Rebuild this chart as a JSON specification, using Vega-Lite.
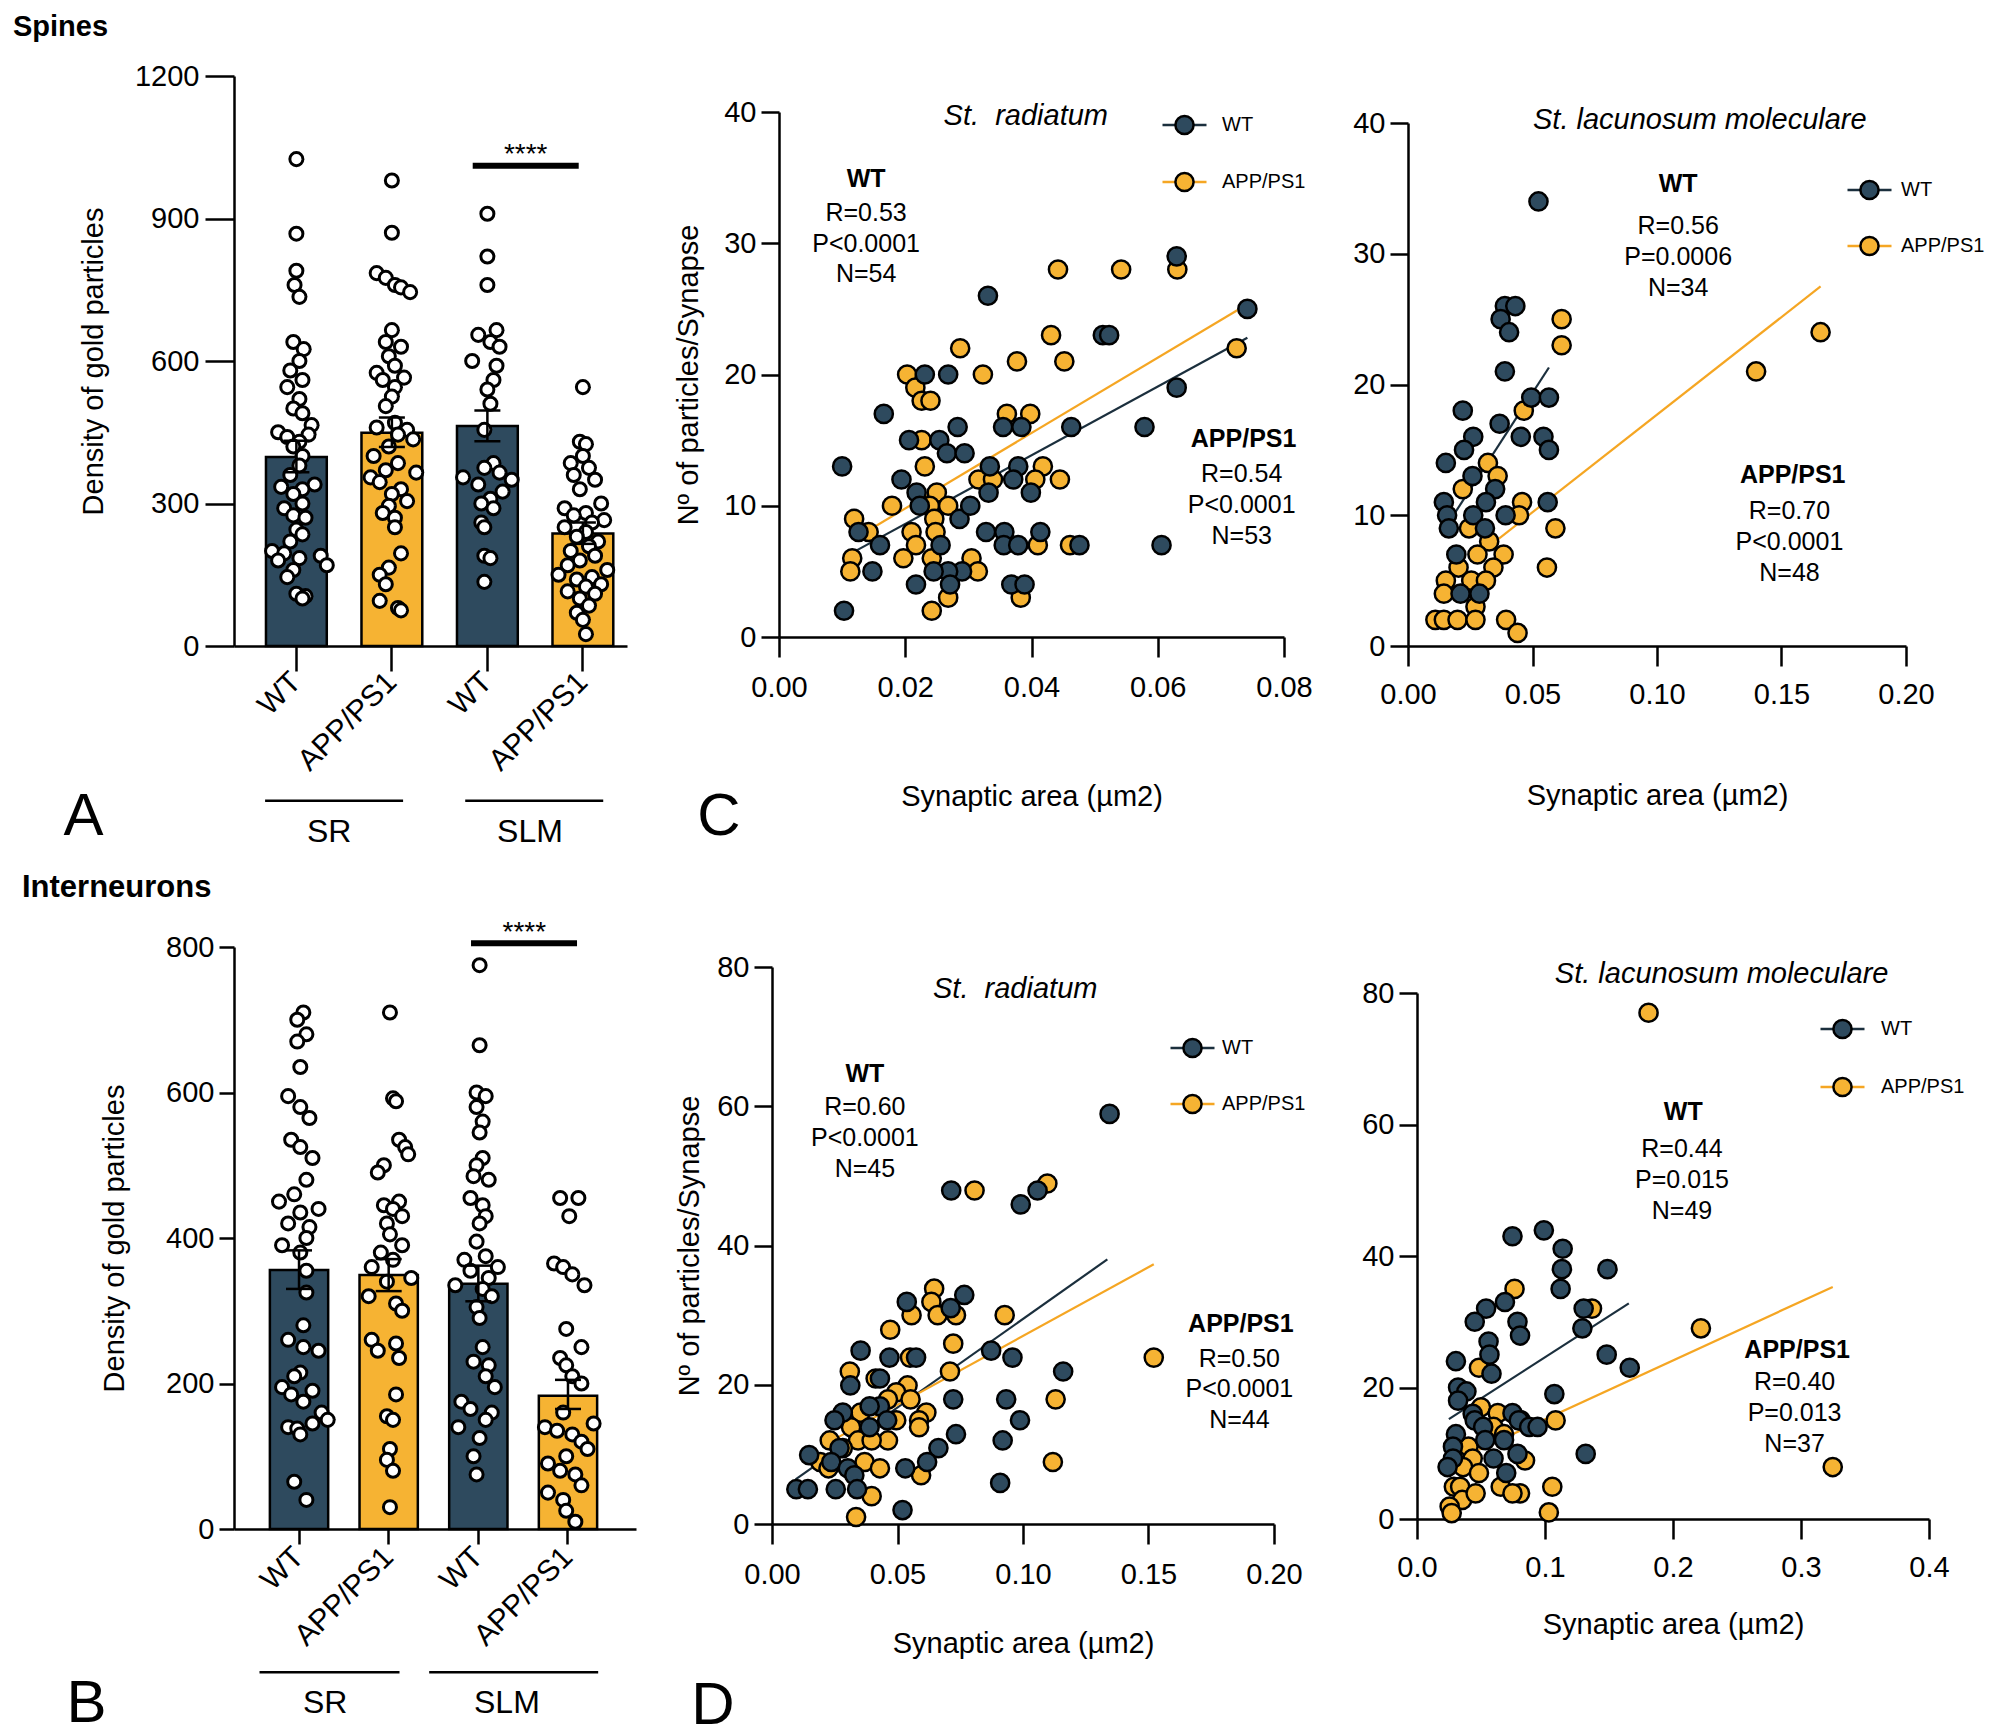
{
"$schema":"https://vega.github.io/schema/vega-lite/v6.json",
"background":"white",
"padding":{"left":13,"top":13,"right":0,"bottom":0},
"resolve":{"scale":{"fill":"independent","stroke":"independent"}},
"config":{
 "font":"Liberation Sans",
 "view":{"stroke":null},
 "axis":{"domainColor":"black","domainWidth":2.5,"tickColor":"black","tickWidth":2.5,"labelColor":"black","titleColor":"black","labelFontSize":29,"titleFontSize":29,"titleFontWeight":"normal","grid":false,"labelFont":"Liberation Sans","titleFont":"Liberation Sans","labelOverlap":false},
 "legend":{"labelFont":"Liberation Sans","labelColor":"black"},
 "title":{"color":"black","font":"Liberation Sans"},
 "text":{"color":"black","font":"Liberation Sans"}
},
"datasets":{
 "bA":[{"grp":"SR|WT","g":"WT","mean":398,"lo":366,"hi":432},{"grp":"SR|APP","g":"APP/PS1","mean":449,"lo":419,"hi":481},{"grp":"SLM|WT","g":"WT","mean":463,"lo":431,"hi":496},{"grp":"SLM|APP","g":"APP/PS1","mean":237,"lo":215,"hi":260}],
 "bB":[{"grp":"SR|WT","g":"WT","mean":356,"lo":330,"hi":383},{"grp":"SR|APP","g":"APP/PS1","mean":349,"lo":327,"hi":371},{"grp":"SLM|WT","g":"WT","mean":337,"lo":313,"hi":362},{"grp":"SLM|APP","g":"APP/PS1","mean":183,"lo":165,"hi":205}],
 "dA":[
  {"grp":"SR|WT","v":1025,"j":0},{"grp":"SR|WT","v":868,"j":0},{"grp":"SR|WT","v":790,"j":0},{"grp":"SR|WT","v":760,"j":-0.03},{"grp":"SR|WT","v":735,"j":0.05},{"grp":"SR|WT","v":640,"j":-0.05},{"grp":"SR|WT","v":625,"j":0.12},{"grp":"SR|WT","v":600,"j":0.05},{"grp":"SR|WT","v":580,"j":-0.1},{"grp":"SR|WT","v":560,"j":0.1},{"grp":"SR|WT","v":545,"j":-0.15},{"grp":"SR|WT","v":520,"j":0.05},{"grp":"SR|WT","v":500,"j":-0.05},{"grp":"SR|WT","v":490,"j":0.1},{"grp":"SR|WT","v":465,"j":0.25},{"grp":"SR|WT","v":450,"j":-0.3},{"grp":"SR|WT","v":445,"j":0.2},{"grp":"SR|WT","v":440,"j":-0.15},{"grp":"SR|WT","v":430,"j":0.05},{"grp":"SR|WT","v":420,"j":-0.05},{"grp":"SR|WT","v":400,"j":0.1},{"grp":"SR|WT","v":380,"j":0.05},{"grp":"SR|WT","v":360,"j":-0.1},{"grp":"SR|WT","v":340,"j":0.3},{"grp":"SR|WT","v":335,"j":-0.25},{"grp":"SR|WT","v":330,"j":0.1},{"grp":"SR|WT","v":320,"j":-0.05},{"grp":"SR|WT","v":300,"j":0.1},{"grp":"SR|WT","v":290,"j":-0.2},{"grp":"SR|WT","v":275,"j":-0.05},{"grp":"SR|WT","v":270,"j":0.15},{"grp":"SR|WT","v":245,"j":0},{"grp":"SR|WT","v":235,"j":0.1},{"grp":"SR|WT","v":220,"j":-0.1},{"grp":"SR|WT","v":200,"j":-0.4},{"grp":"SR|WT","v":195,"j":-0.2},{"grp":"SR|WT","v":190,"j":0.4},{"grp":"SR|WT","v":185,"j":0.05},{"grp":"SR|WT","v":180,"j":-0.3},{"grp":"SR|WT","v":170,"j":0.5},{"grp":"SR|WT","v":160,"j":-0.05},{"grp":"SR|WT","v":145,"j":-0.15},{"grp":"SR|WT","v":110,"j":0},{"grp":"SR|WT","v":105,"j":0.15},{"grp":"SR|WT","v":100,"j":0.1},
  {"grp":"SR|APP","v":980,"j":0},{"grp":"SR|APP","v":870,"j":0},{"grp":"SR|APP","v":785,"j":-0.25},{"grp":"SR|APP","v":775,"j":-0.1},{"grp":"SR|APP","v":760,"j":0.05},{"grp":"SR|APP","v":755,"j":0.15},{"grp":"SR|APP","v":745,"j":0.3},{"grp":"SR|APP","v":665,"j":0},{"grp":"SR|APP","v":640,"j":-0.1},{"grp":"SR|APP","v":630,"j":0.15},{"grp":"SR|APP","v":610,"j":-0.05},{"grp":"SR|APP","v":590,"j":0.05},{"grp":"SR|APP","v":575,"j":-0.25},{"grp":"SR|APP","v":565,"j":0.2},{"grp":"SR|APP","v":560,"j":-0.15},{"grp":"SR|APP","v":545,"j":0.05},{"grp":"SR|APP","v":525,"j":0},{"grp":"SR|APP","v":505,"j":-0.1},{"grp":"SR|APP","v":470,"j":0.05},{"grp":"SR|APP","v":460,"j":-0.25},{"grp":"SR|APP","v":455,"j":0.25},{"grp":"SR|APP","v":445,"j":0.1},{"grp":"SR|APP","v":435,"j":0.35},{"grp":"SR|APP","v":420,"j":-0.05},{"grp":"SR|APP","v":400,"j":-0.3},{"grp":"SR|APP","v":385,"j":0.1},{"grp":"SR|APP","v":370,"j":-0.1},{"grp":"SR|APP","v":365,"j":0.4},{"grp":"SR|APP","v":355,"j":-0.35},{"grp":"SR|APP","v":345,"j":-0.2},{"grp":"SR|APP","v":330,"j":0.15},{"grp":"SR|APP","v":320,"j":0},{"grp":"SR|APP","v":305,"j":0.25},{"grp":"SR|APP","v":295,"j":-0.05},{"grp":"SR|APP","v":280,"j":-0.15},{"grp":"SR|APP","v":270,"j":0.05},{"grp":"SR|APP","v":250,"j":0.05},{"grp":"SR|APP","v":195,"j":0.15},{"grp":"SR|APP","v":165,"j":-0.05},{"grp":"SR|APP","v":150,"j":-0.2},{"grp":"SR|APP","v":130,"j":-0.1},{"grp":"SR|APP","v":95,"j":-0.2},{"grp":"SR|APP","v":80,"j":0.1},{"grp":"SR|APP","v":75,"j":0.15},
  {"grp":"SLM|WT","v":910,"j":0},{"grp":"SLM|WT","v":820,"j":0},{"grp":"SLM|WT","v":760,"j":0},{"grp":"SLM|WT","v":665,"j":0.15},{"grp":"SLM|WT","v":655,"j":-0.15},{"grp":"SLM|WT","v":640,"j":0.05},{"grp":"SLM|WT","v":630,"j":0.2},{"grp":"SLM|WT","v":600,"j":-0.25},{"grp":"SLM|WT","v":590,"j":0.15},{"grp":"SLM|WT","v":560,"j":0.1},{"grp":"SLM|WT","v":540,"j":0},{"grp":"SLM|WT","v":510,"j":0.05},{"grp":"SLM|WT","v":455,"j":-0.05},{"grp":"SLM|WT","v":385,"j":0.1},{"grp":"SLM|WT","v":375,"j":-0.05},{"grp":"SLM|WT","v":365,"j":0.2},{"grp":"SLM|WT","v":355,"j":-0.4},{"grp":"SLM|WT","v":350,"j":0.4},{"grp":"SLM|WT","v":340,"j":-0.15},{"grp":"SLM|WT","v":325,"j":0.25},{"grp":"SLM|WT","v":310,"j":0.05},{"grp":"SLM|WT","v":300,"j":-0.1},{"grp":"SLM|WT","v":290,"j":0.1},{"grp":"SLM|WT","v":260,"j":-0.1},{"grp":"SLM|WT","v":250,"j":-0.05},{"grp":"SLM|WT","v":190,"j":-0.05},{"grp":"SLM|WT","v":185,"j":0.05},{"grp":"SLM|WT","v":135,"j":-0.05},
  {"grp":"SLM|APP","v":545,"j":0},{"grp":"SLM|APP","v":430,"j":-0.05},{"grp":"SLM|APP","v":425,"j":0.05},{"grp":"SLM|APP","v":400,"j":0},{"grp":"SLM|APP","v":385,"j":-0.2},{"grp":"SLM|APP","v":375,"j":0.1},{"grp":"SLM|APP","v":360,"j":-0.15},{"grp":"SLM|APP","v":350,"j":0.2},{"grp":"SLM|APP","v":330,"j":-0.05},{"grp":"SLM|APP","v":300,"j":0.3},{"grp":"SLM|APP","v":290,"j":-0.3},{"grp":"SLM|APP","v":280,"j":0.05},{"grp":"SLM|APP","v":275,"j":-0.15},{"grp":"SLM|APP","v":265,"j":0.35},{"grp":"SLM|APP","v":260,"j":0.15},{"grp":"SLM|APP","v":250,"j":-0.3},{"grp":"SLM|APP","v":240,"j":0.05},{"grp":"SLM|APP","v":230,"j":-0.1},{"grp":"SLM|APP","v":220,"j":0.25},{"grp":"SLM|APP","v":210,"j":0.1},{"grp":"SLM|APP","v":200,"j":-0.2},{"grp":"SLM|APP","v":190,"j":0.2},{"grp":"SLM|APP","v":180,"j":-0.05},{"grp":"SLM|APP","v":170,"j":-0.25},{"grp":"SLM|APP","v":160,"j":0.4},{"grp":"SLM|APP","v":150,"j":-0.4},{"grp":"SLM|APP","v":145,"j":0.15},{"grp":"SLM|APP","v":140,"j":-0.1},{"grp":"SLM|APP","v":130,"j":0.3},{"grp":"SLM|APP","v":125,"j":0.05},{"grp":"SLM|APP","v":115,"j":-0.25},{"grp":"SLM|APP","v":110,"j":0.2},{"grp":"SLM|APP","v":100,"j":-0.05},{"grp":"SLM|APP","v":85,"j":0.1},{"grp":"SLM|APP","v":70,"j":-0.1},{"grp":"SLM|APP","v":55,"j":0},{"grp":"SLM|APP","v":25,"j":0.05}
 ],
 "dB":[
  {"grp":"SR|WT","v":710,"j":0.05},{"grp":"SR|WT","v":700,"j":-0.05},{"grp":"SR|WT","v":680,"j":0.1},{"grp":"SR|WT","v":670,"j":-0.05},{"grp":"SR|WT","v":635,"j":0},{"grp":"SR|WT","v":595,"j":-0.2},{"grp":"SR|WT","v":580,"j":0},{"grp":"SR|WT","v":565,"j":0.15},{"grp":"SR|WT","v":535,"j":-0.15},{"grp":"SR|WT","v":525,"j":0},{"grp":"SR|WT","v":510,"j":0.2},{"grp":"SR|WT","v":480,"j":0.1},{"grp":"SR|WT","v":460,"j":-0.1},{"grp":"SR|WT","v":450,"j":-0.35},{"grp":"SR|WT","v":440,"j":0.3},{"grp":"SR|WT","v":435,"j":0},{"grp":"SR|WT","v":420,"j":-0.2},{"grp":"SR|WT","v":415,"j":0.15},{"grp":"SR|WT","v":400,"j":0.1},{"grp":"SR|WT","v":390,"j":-0.3},{"grp":"SR|WT","v":380,"j":0},{"grp":"SR|WT","v":355,"j":0.1},{"grp":"SR|WT","v":325,"j":0.1},{"grp":"SR|WT","v":280,"j":0.05},{"grp":"SR|WT","v":260,"j":-0.2},{"grp":"SR|WT","v":250,"j":0.05},{"grp":"SR|WT","v":245,"j":0.3},{"grp":"SR|WT","v":215,"j":0},{"grp":"SR|WT","v":210,"j":-0.1},{"grp":"SR|WT","v":195,"j":-0.3},{"grp":"SR|WT","v":190,"j":0.2},{"grp":"SR|WT","v":185,"j":-0.15},{"grp":"SR|WT","v":175,"j":0.05},{"grp":"SR|WT","v":160,"j":0.35},{"grp":"SR|WT","v":150,"j":0.45},{"grp":"SR|WT","v":145,"j":0.2},{"grp":"SR|WT","v":140,"j":-0.2},{"grp":"SR|WT","v":138,"j":-0.05},{"grp":"SR|WT","v":130,"j":0},{"grp":"SR|WT","v":65,"j":-0.1},{"grp":"SR|WT","v":40,"j":0.1},
  {"grp":"SR|APP","v":710,"j":0},{"grp":"SR|APP","v":592,"j":0.05},{"grp":"SR|APP","v":588,"j":0.1},{"grp":"SR|APP","v":535,"j":0.15},{"grp":"SR|APP","v":525,"j":0.25},{"grp":"SR|APP","v":515,"j":0.3},{"grp":"SR|APP","v":500,"j":-0.1},{"grp":"SR|APP","v":490,"j":-0.2},{"grp":"SR|APP","v":450,"j":0.15},{"grp":"SR|APP","v":445,"j":-0.1},{"grp":"SR|APP","v":440,"j":0.05},{"grp":"SR|APP","v":430,"j":0.2},{"grp":"SR|APP","v":420,"j":-0.05},{"grp":"SR|APP","v":405,"j":0},{"grp":"SR|APP","v":390,"j":0.2},{"grp":"SR|APP","v":380,"j":-0.15},{"grp":"SR|APP","v":370,"j":0.05},{"grp":"SR|APP","v":360,"j":-0.3},{"grp":"SR|APP","v":345,"j":0.35},{"grp":"SR|APP","v":340,"j":-0.05},{"grp":"SR|APP","v":320,"j":-0.35},{"grp":"SR|APP","v":310,"j":0.1},{"grp":"SR|APP","v":300,"j":0.2},{"grp":"SR|APP","v":260,"j":-0.3},{"grp":"SR|APP","v":255,"j":0.1},{"grp":"SR|APP","v":245,"j":-0.2},{"grp":"SR|APP","v":235,"j":0.15},{"grp":"SR|APP","v":185,"j":0.1},{"grp":"SR|APP","v":155,"j":-0.05},{"grp":"SR|APP","v":150,"j":0.05},{"grp":"SR|APP","v":110,"j":0},{"grp":"SR|APP","v":95,"j":-0.05},{"grp":"SR|APP","v":80,"j":0.05},{"grp":"SR|APP","v":30,"j":0},
  {"grp":"SLM|WT","v":775,"j":0},{"grp":"SLM|WT","v":665,"j":0},{"grp":"SLM|WT","v":600,"j":-0.05},{"grp":"SLM|WT","v":595,"j":0.1},{"grp":"SLM|WT","v":580,"j":-0.05},{"grp":"SLM|WT","v":560,"j":0.05},{"grp":"SLM|WT","v":545,"j":0},{"grp":"SLM|WT","v":510,"j":0.05},{"grp":"SLM|WT","v":500,"j":-0.05},{"grp":"SLM|WT","v":485,"j":-0.1},{"grp":"SLM|WT","v":480,"j":0.15},{"grp":"SLM|WT","v":455,"j":-0.15},{"grp":"SLM|WT","v":445,"j":0.05},{"grp":"SLM|WT","v":430,"j":0.1},{"grp":"SLM|WT","v":420,"j":0},{"grp":"SLM|WT","v":395,"j":-0.05},{"grp":"SLM|WT","v":375,"j":0.1},{"grp":"SLM|WT","v":370,"j":-0.25},{"grp":"SLM|WT","v":360,"j":0.3},{"grp":"SLM|WT","v":355,"j":-0.15},{"grp":"SLM|WT","v":345,"j":0.15},{"grp":"SLM|WT","v":335,"j":-0.4},{"grp":"SLM|WT","v":330,"j":0.05},{"grp":"SLM|WT","v":320,"j":0.2},{"grp":"SLM|WT","v":305,"j":-0.05},{"grp":"SLM|WT","v":290,"j":0},{"grp":"SLM|WT","v":250,"j":0.05},{"grp":"SLM|WT","v":230,"j":-0.1},{"grp":"SLM|WT","v":225,"j":0.15},{"grp":"SLM|WT","v":210,"j":0.1},{"grp":"SLM|WT","v":195,"j":0.25},{"grp":"SLM|WT","v":175,"j":-0.3},{"grp":"SLM|WT","v":165,"j":-0.15},{"grp":"SLM|WT","v":160,"j":0.2},{"grp":"SLM|WT","v":150,"j":0.1},{"grp":"SLM|WT","v":140,"j":-0.35},{"grp":"SLM|WT","v":125,"j":0},{"grp":"SLM|WT","v":100,"j":-0.1},{"grp":"SLM|WT","v":75,"j":-0.05},
  {"grp":"SLM|APP","v":455,"j":-0.15},{"grp":"SLM|APP","v":455,"j":0.15},{"grp":"SLM|APP","v":430,"j":0},{"grp":"SLM|APP","v":365,"j":-0.25},{"grp":"SLM|APP","v":360,"j":-0.1},{"grp":"SLM|APP","v":350,"j":0.05},{"grp":"SLM|APP","v":335,"j":0.25},{"grp":"SLM|APP","v":275,"j":-0.05},{"grp":"SLM|APP","v":250,"j":0.2},{"grp":"SLM|APP","v":235,"j":-0.15},{"grp":"SLM|APP","v":225,"j":-0.05},{"grp":"SLM|APP","v":210,"j":0.05},{"grp":"SLM|APP","v":200,"j":0.2},{"grp":"SLM|APP","v":160,"j":-0.1},{"grp":"SLM|APP","v":145,"j":0.4},{"grp":"SLM|APP","v":140,"j":-0.4},{"grp":"SLM|APP","v":135,"j":-0.2},{"grp":"SLM|APP","v":130,"j":0.05},{"grp":"SLM|APP","v":120,"j":0.2},{"grp":"SLM|APP","v":110,"j":0.3},{"grp":"SLM|APP","v":100,"j":-0.05},{"grp":"SLM|APP","v":90,"j":-0.35},{"grp":"SLM|APP","v":80,"j":-0.15},{"grp":"SLM|APP","v":75,"j":0.1},{"grp":"SLM|APP","v":60,"j":0.2},{"grp":"SLM|APP","v":50,"j":-0.35},{"grp":"SLM|APP","v":40,"j":-0.1},{"grp":"SLM|APP","v":25,"j":-0.05},{"grp":"SLM|APP","v":10,"j":0.1}
 ],
 "c1":[
  {"g":"APP/PS1","x":0.0119,"y":9},{"g":"APP/PS1","x":0.0116,"y":6},{"g":"APP/PS1","x":0.0113,"y":5},{"g":"APP/PS1","x":0.0142,"y":8},{"g":"APP/PS1","x":0.0179,"y":10},{"g":"APP/PS1","x":0.0203,"y":20},{"g":"APP/PS1","x":0.0216,"y":19},{"g":"APP/PS1","x":0.0226,"y":18},{"g":"APP/PS1","x":0.024,"y":18},{"g":"APP/PS1","x":0.0226,"y":15},{"g":"APP/PS1","x":0.0231,"y":13},{"g":"APP/PS1","x":0.025,"y":11},{"g":"APP/PS1","x":0.0239,"y":10},{"g":"APP/PS1","x":0.0246,"y":9},{"g":"APP/PS1","x":0.0268,"y":10},{"g":"APP/PS1","x":0.021,"y":8},{"g":"APP/PS1","x":0.0248,"y":8},{"g":"APP/PS1","x":0.0217,"y":7},{"g":"APP/PS1","x":0.0197,"y":6},{"g":"APP/PS1","x":0.0242,"y":6},{"g":"APP/PS1","x":0.0305,"y":6},{"g":"APP/PS1","x":0.0315,"y":5},{"g":"APP/PS1","x":0.0268,"y":3},{"g":"APP/PS1","x":0.0242,"y":2},{"g":"APP/PS1","x":0.0287,"y":22},{"g":"APP/PS1","x":0.0323,"y":20},{"g":"APP/PS1","x":0.0316,"y":12},{"g":"APP/PS1","x":0.0339,"y":12},{"g":"APP/PS1","x":0.0361,"y":17},{"g":"APP/PS1","x":0.0398,"y":17},{"g":"APP/PS1","x":0.0377,"y":21},{"g":"APP/PS1","x":0.0431,"y":23},{"g":"APP/PS1","x":0.0452,"y":21},{"g":"APP/PS1","x":0.0442,"y":28},{"g":"APP/PS1","x":0.0542,"y":28},{"g":"APP/PS1","x":0.0631,"y":28},{"g":"APP/PS1","x":0.0725,"y":22},{"g":"APP/PS1","x":0.0418,"y":13},{"g":"APP/PS1","x":0.0406,"y":12},{"g":"APP/PS1","x":0.0445,"y":12},{"g":"APP/PS1","x":0.041,"y":7},{"g":"APP/PS1","x":0.0461,"y":7},{"g":"APP/PS1","x":0.0383,"y":3},
  {"g":"WT","x":0.01,"y":13},{"g":"WT","x":0.0103,"y":2},{"g":"WT","x":0.0166,"y":17},{"g":"WT","x":0.0126,"y":8},{"g":"WT","x":0.016,"y":7},{"g":"WT","x":0.0148,"y":5},{"g":"WT","x":0.0206,"y":15},{"g":"WT","x":0.0231,"y":20},{"g":"WT","x":0.0268,"y":20},{"g":"WT","x":0.0194,"y":12},{"g":"WT","x":0.0218,"y":11},{"g":"WT","x":0.0223,"y":10},{"g":"WT","x":0.0254,"y":15},{"g":"WT","x":0.0266,"y":14},{"g":"WT","x":0.0283,"y":16},{"g":"WT","x":0.0294,"y":14},{"g":"WT","x":0.0286,"y":9},{"g":"WT","x":0.0303,"y":10},{"g":"WT","x":0.029,"y":5},{"g":"WT","x":0.0268,"y":5},{"g":"WT","x":0.0245,"y":5},{"g":"WT","x":0.0217,"y":4},{"g":"WT","x":0.0271,"y":4},{"g":"WT","x":0.0256,"y":7},{"g":"WT","x":0.0331,"y":26},{"g":"WT","x":0.0334,"y":13},{"g":"WT","x":0.0332,"y":11},{"g":"WT","x":0.0328,"y":8},{"g":"WT","x":0.0355,"y":16},{"g":"WT","x":0.0384,"y":16},{"g":"WT","x":0.0379,"y":13},{"g":"WT","x":0.0371,"y":12},{"g":"WT","x":0.0399,"y":11},{"g":"WT","x":0.0357,"y":8},{"g":"WT","x":0.0356,"y":7},{"g":"WT","x":0.0379,"y":7},{"g":"WT","x":0.0368,"y":4},{"g":"WT","x":0.0389,"y":4},{"g":"WT","x":0.0414,"y":8},{"g":"WT","x":0.0463,"y":16},{"g":"WT","x":0.0476,"y":7},{"g":"WT","x":0.0513,"y":23},{"g":"WT","x":0.0523,"y":23},{"g":"WT","x":0.0579,"y":16},{"g":"WT","x":0.0606,"y":7},{"g":"WT","x":0.063,"y":29},{"g":"WT","x":0.063,"y":19},{"g":"WT","x":0.0742,"y":25}
 ],
 "c2":[
  {"g":"APP/PS1","x":0.0617,"y":25},{"g":"APP/PS1","x":0.0617,"y":23},{"g":"APP/PS1","x":0.1657,"y":24},{"g":"APP/PS1","x":0.1398,"y":21},{"g":"APP/PS1","x":0.0465,"y":18},{"g":"APP/PS1","x":0.0321,"y":14},{"g":"APP/PS1","x":0.036,"y":13},{"g":"APP/PS1","x":0.022,"y":12},{"g":"APP/PS1","x":0.0458,"y":11},{"g":"APP/PS1","x":0.0446,"y":10},{"g":"APP/PS1","x":0.0592,"y":9},{"g":"APP/PS1","x":0.0245,"y":9},{"g":"APP/PS1","x":0.0326,"y":8},{"g":"APP/PS1","x":0.0384,"y":7},{"g":"APP/PS1","x":0.0279,"y":7},{"g":"APP/PS1","x":0.0343,"y":6},{"g":"APP/PS1","x":0.0558,"y":6},{"g":"APP/PS1","x":0.0203,"y":6},{"g":"APP/PS1","x":0.0152,"y":5},{"g":"APP/PS1","x":0.0254,"y":5},{"g":"APP/PS1","x":0.0313,"y":5},{"g":"APP/PS1","x":0.0144,"y":4},{"g":"APP/PS1","x":0.0271,"y":3},{"g":"APP/PS1","x":0.011,"y":2},{"g":"APP/PS1","x":0.0144,"y":2},{"g":"APP/PS1","x":0.0199,"y":2},{"g":"APP/PS1","x":0.0271,"y":2},{"g":"APP/PS1","x":0.0394,"y":2},{"g":"APP/PS1","x":0.044,"y":1},
  {"g":"WT","x":0.0524,"y":34},{"g":"WT","x":0.0389,"y":26},{"g":"WT","x":0.0431,"y":26},{"g":"WT","x":0.0372,"y":25},{"g":"WT","x":0.0406,"y":24},{"g":"WT","x":0.0389,"y":21},{"g":"WT","x":0.0495,"y":19},{"g":"WT","x":0.0566,"y":19},{"g":"WT","x":0.0368,"y":17},{"g":"WT","x":0.022,"y":18},{"g":"WT","x":0.0453,"y":16},{"g":"WT","x":0.0544,"y":16},{"g":"WT","x":0.0566,"y":15},{"g":"WT","x":0.0262,"y":16},{"g":"WT","x":0.0225,"y":15},{"g":"WT","x":0.0152,"y":14},{"g":"WT","x":0.0259,"y":13},{"g":"WT","x":0.035,"y":12},{"g":"WT","x":0.0313,"y":11},{"g":"WT","x":0.0144,"y":11},{"g":"WT","x":0.0561,"y":11},{"g":"WT","x":0.0157,"y":10},{"g":"WT","x":0.0262,"y":10},{"g":"WT","x":0.0392,"y":10},{"g":"WT","x":0.0164,"y":9},{"g":"WT","x":0.0309,"y":9},{"g":"WT","x":0.0194,"y":7},{"g":"WT","x":0.0211,"y":4},{"g":"WT","x":0.0287,"y":4}
 ],
 "d1":[
  {"g":"APP/PS1","x":0.1097,"y":48.9},{"g":"APP/PS1","x":0.0807,"y":47.9},{"g":"APP/PS1","x":0.0646,"y":33.8},{"g":"APP/PS1","x":0.0635,"y":31.9},{"g":"APP/PS1","x":0.066,"y":30},{"g":"APP/PS1","x":0.0733,"y":30},{"g":"APP/PS1","x":0.0556,"y":30},{"g":"APP/PS1","x":0.0927,"y":30},{"g":"APP/PS1","x":0.0471,"y":27.9},{"g":"APP/PS1","x":0.0722,"y":25.9},{"g":"APP/PS1","x":0.055,"y":23.9},{"g":"APP/PS1","x":0.1521,"y":23.9},{"g":"APP/PS1","x":0.031,"y":21.9},{"g":"APP/PS1","x":0.0709,"y":21.9},{"g":"APP/PS1","x":0.0413,"y":20.9},{"g":"APP/PS1","x":0.054,"y":19.9},{"g":"APP/PS1","x":0.0495,"y":18.9},{"g":"APP/PS1","x":0.0462,"y":17.9},{"g":"APP/PS1","x":0.0552,"y":17.9},{"g":"APP/PS1","x":0.113,"y":17.9},{"g":"APP/PS1","x":0.0353,"y":16},{"g":"APP/PS1","x":0.0615,"y":16},{"g":"APP/PS1","x":0.0586,"y":14.9},{"g":"APP/PS1","x":0.0495,"y":14.9},{"g":"APP/PS1","x":0.0586,"y":13.9},{"g":"APP/PS1","x":0.0315,"y":13.9},{"g":"APP/PS1","x":0.0343,"y":12},{"g":"APP/PS1","x":0.0462,"y":12},{"g":"APP/PS1","x":0.023,"y":12},{"g":"APP/PS1","x":0.0397,"y":12},{"g":"APP/PS1","x":0.0282,"y":10.9},{"g":"APP/PS1","x":0.0369,"y":8.9},{"g":"APP/PS1","x":0.0192,"y":8.9},{"g":"APP/PS1","x":0.043,"y":8},{"g":"APP/PS1","x":0.0225,"y":8},{"g":"APP/PS1","x":0.0594,"y":7},{"g":"APP/PS1","x":0.1119,"y":8.9},{"g":"APP/PS1","x":0.0397,"y":4},{"g":"APP/PS1","x":0.0335,"y":1},
  {"g":"WT","x":0.1345,"y":58.9},{"g":"WT","x":0.0714,"y":47.9},{"g":"WT","x":0.0991,"y":45.9},{"g":"WT","x":0.1058,"y":47.9},{"g":"WT","x":0.0766,"y":32.9},{"g":"WT","x":0.0537,"y":31.9},{"g":"WT","x":0.0712,"y":31},{"g":"WT","x":0.0353,"y":24.9},{"g":"WT","x":0.0468,"y":23.9},{"g":"WT","x":0.0574,"y":23.9},{"g":"WT","x":0.0873,"y":24.9},{"g":"WT","x":0.0958,"y":23.9},{"g":"WT","x":0.116,"y":21.9},{"g":"WT","x":0.043,"y":20.9},{"g":"WT","x":0.0312,"y":19.9},{"g":"WT","x":0.0722,"y":17.9},{"g":"WT","x":0.0933,"y":17.9},{"g":"WT","x":0.0988,"y":14.9},{"g":"WT","x":0.043,"y":16.9},{"g":"WT","x":0.0389,"y":16.9},{"g":"WT","x":0.0282,"y":16},{"g":"WT","x":0.0249,"y":14.9},{"g":"WT","x":0.0459,"y":14.9},{"g":"WT","x":0.0389,"y":13.9},{"g":"WT","x":0.0733,"y":12.9},{"g":"WT","x":0.0919,"y":12},{"g":"WT","x":0.0663,"y":10.9},{"g":"WT","x":0.0269,"y":10.9},{"g":"WT","x":0.0148,"y":9.9},{"g":"WT","x":0.0236,"y":8.9},{"g":"WT","x":0.0618,"y":8.9},{"g":"WT","x":0.0302,"y":8},{"g":"WT","x":0.0328,"y":7},{"g":"WT","x":0.0531,"y":8},{"g":"WT","x":0.0097,"y":5},{"g":"WT","x":0.0143,"y":5},{"g":"WT","x":0.0254,"y":5},{"g":"WT","x":0.0339,"y":5},{"g":"WT","x":0.052,"y":2},{"g":"WT","x":0.0909,"y":5.9}
 ],
 "d2":[
  {"g":"APP/PS1","x":0.1809,"y":77},{"g":"APP/PS1","x":0.2218,"y":29},{"g":"APP/PS1","x":0.0762,"y":35},{"g":"APP/PS1","x":0.1367,"y":32},{"g":"APP/PS1","x":0.3248,"y":7.9},{"g":"APP/PS1","x":0.0484,"y":23},{"g":"APP/PS1","x":0.05,"y":17},{"g":"APP/PS1","x":0.0631,"y":16.1},{"g":"APP/PS1","x":0.1083,"y":15},{"g":"APP/PS1","x":0.0811,"y":15},{"g":"APP/PS1","x":0.0598,"y":14},{"g":"APP/PS1","x":0.068,"y":12.9},{"g":"APP/PS1","x":0.0402,"y":11},{"g":"APP/PS1","x":0.0435,"y":9.2},{"g":"APP/PS1","x":0.0844,"y":8.9},{"g":"APP/PS1","x":0.036,"y":7.9},{"g":"APP/PS1","x":0.0484,"y":7},{"g":"APP/PS1","x":0.0288,"y":4.9},{"g":"APP/PS1","x":0.0337,"y":4.9},{"g":"APP/PS1","x":0.0654,"y":4.9},{"g":"APP/PS1","x":0.1057,"y":4.9},{"g":"APP/PS1","x":0.0353,"y":2.9},{"g":"APP/PS1","x":0.0458,"y":3.9},{"g":"APP/PS1","x":0.0805,"y":3.9},{"g":"APP/PS1","x":0.0746,"y":3.9},{"g":"APP/PS1","x":0.0255,"y":1.9},{"g":"APP/PS1","x":0.0271,"y":0.9},{"g":"APP/PS1","x":0.103,"y":1},
  {"g":"WT","x":0.0991,"y":43.9},{"g":"WT","x":0.0746,"y":43},{"g":"WT","x":0.1138,"y":41.1},{"g":"WT","x":0.1132,"y":38},{"g":"WT","x":0.1488,"y":38},{"g":"WT","x":0.1122,"y":35},{"g":"WT","x":0.0687,"y":33},{"g":"WT","x":0.054,"y":32},{"g":"WT","x":0.1302,"y":32},{"g":"WT","x":0.0451,"y":30},{"g":"WT","x":0.0785,"y":30},{"g":"WT","x":0.0805,"y":27.9},{"g":"WT","x":0.1292,"y":29},{"g":"WT","x":0.0559,"y":27},{"g":"WT","x":0.0566,"y":25},{"g":"WT","x":0.1482,"y":25},{"g":"WT","x":0.1662,"y":23},{"g":"WT","x":0.0582,"y":22.1},{"g":"WT","x":0.0304,"y":24},{"g":"WT","x":0.0321,"y":20},{"g":"WT","x":0.0386,"y":19.4},{"g":"WT","x":0.0321,"y":18},{"g":"WT","x":0.1073,"y":19},{"g":"WT","x":0.0435,"y":16},{"g":"WT","x":0.0451,"y":15},{"g":"WT","x":0.0517,"y":14},{"g":"WT","x":0.0746,"y":16.1},{"g":"WT","x":0.0795,"y":15},{"g":"WT","x":0.0876,"y":14},{"g":"WT","x":0.0942,"y":14},{"g":"WT","x":0.0304,"y":12.9},{"g":"WT","x":0.0281,"y":11},{"g":"WT","x":0.0533,"y":12},{"g":"WT","x":0.068,"y":12},{"g":"WT","x":0.0281,"y":9.2},{"g":"WT","x":0.0598,"y":9.2},{"g":"WT","x":0.0785,"y":9.9},{"g":"WT","x":0.1318,"y":9.9},{"g":"WT","x":0.0697,"y":7},{"g":"WT","x":0.0239,"y":7.9}
 ],
 "l1":[{"g":"WT","x":0.0123,"y":6.6},{"g":"WT","x":0.0742,"y":22.8},{"g":"APP/PS1","x":0.0148,"y":8.3},{"g":"APP/PS1","x":0.0726,"y":24.9}],
 "l2":[{"g":"WT","x":0.0145,"y":8.9},{"g":"WT","x":0.0566,"y":21.3},{"g":"APP/PS1","x":0.025,"y":6.5},{"g":"APP/PS1","x":0.1657,"y":27.5}],
 "l3":[{"g":"WT","x":0.0094,"y":6.4},{"g":"WT","x":0.1336,"y":38},{"g":"APP/PS1","x":0.023,"y":11.8},{"g":"APP/PS1","x":0.1521,"y":37.3}],
 "l4":[{"g":"WT","x":0.0249,"y":15.2},{"g":"WT","x":0.1655,"y":32.8},{"g":"APP/PS1","x":0.03,"y":8.9},{"g":"APP/PS1","x":0.3248,"y":35.3}]
},
"vconcat":[
 {"resolve":{"scale":{"fill":"independent","stroke":"independent"}},
  "hconcat":[
  {"width":393,"height":570,
   "title":{"text":"Spines","anchor":"start","frame":"group","fontSize":29,"fontWeight":"bold","dx":-221,"offset":20},
   "encoding":{"x":{"field":"grp","type":"nominal","scale":{"domain":["SR|WT","SR|APP","SLM|WT","SLM|APP"],"paddingInner":0.363,"paddingOuter":0.239,"align":0.7},
     "axis":{"title":"A","titleFontSize":60,"titleX":-151,"titleY":170,"titleAlign":"center","titleBaseline":"middle","titleAngle":0,"labelExpr":"split(datum.value,'|')[1] == 'WT' ? 'WT' : 'APP/PS1'","labelAngle":-45,"labelAlign":"right","labelBaseline":"middle","labelFontSize":30,"tickSize":25,"labelPadding":6}}},
   "layer":[
    {"data":{"name":"bA"},"mark":{"type":"bar","stroke":"black","strokeWidth":2.5,"width":60.8},
     "encoding":{"y":{"field":"mean","type":"quantitative","scale":{"domain":[0,1200]},"axis":{"values":[0,300,600,900,1200],"format":"d","title":"Density of gold particles","tickSize":29,"labelPadding":6,"titlePadding":26}},
      "fill":{"field":"g","type":"nominal","scale":{"domain":["WT","APP/PS1"],"range":["#2e4a5e","#f6b333"]},"legend":null}}},
    {"data":{"name":"dA"},"mark":{"type":"point","shape":"circle","filled":true,"fill":"white","stroke":"black","strokeWidth":3,"size":170,"opacity":1},
     "encoding":{"y":{"field":"v","type":"quantitative"},"xOffset":{"field":"j","type":"quantitative","scale":{"domain":[-0.5,0.5]}}}},
    {"data":{"name":"bA"},"mark":{"type":"rule","color":"black","strokeWidth":2.5,"opacity":1},"encoding":{"y":{"field":"lo","type":"quantitative"},"y2":{"field":"hi"}}},
    {"data":{"name":"bA"},"mark":{"type":"tick","color":"black","thickness":2.5,"size":26,"orient":"horizontal","opacity":1},"encoding":{"y":{"field":"lo","type":"quantitative"}}},
    {"data":{"name":"bA"},"mark":{"type":"tick","color":"black","thickness":2.5,"size":26,"orient":"horizontal","opacity":1},"encoding":{"y":{"field":"hi","type":"quantitative"}}},
    {"data":{"values":[{"grp":"SR|WT"}]},"mark":{"type":"tick","orient":"horizontal","color":"black","thickness":2.5,"size":138,"opacity":1},"encoding":{"xOffset":{"datum":0.62,"type":"quantitative"},"y":{"datum":-326,"type":"quantitative"}}},
    {"data":{"values":[{"grp":"SLM|WT"}]},"mark":{"type":"tick","orient":"horizontal","color":"black","thickness":2.5,"size":138,"opacity":1},"encoding":{"xOffset":{"datum":0.77,"type":"quantitative"},"y":{"datum":-326,"type":"quantitative"}}},
    {"data":{"values":[{"grp":"SR|WT","lab":"SR"}]},"mark":{"type":"text","fontSize":32,"baseline":"middle"},"encoding":{"x":{"field":"grp","type":"nominal","bandPosition":1.04},"y":{"datum":-391,"type":"quantitative"},"text":{"field":"lab"}}},
    {"data":{"values":[{"grp":"SLM|WT","lab":"SLM"}]},"mark":{"type":"text","fontSize":32,"baseline":"middle"},"encoding":{"x":{"field":"grp","type":"nominal","bandPosition":1.2},"y":{"datum":-391,"type":"quantitative"},"text":{"field":"lab"}}},
    {"data":{"values":[{"grp":"SLM|WT"}]},"mark":{"type":"tick","orient":"horizontal","color":"black","thickness":6,"size":106,"opacity":1},"encoding":{"xOffset":{"datum":0.63,"type":"quantitative"},"y":{"datum":1011,"type":"quantitative"}}},
    {"data":{"values":[{"grp":"SLM|WT"}]},"mark":{"type":"text","text":"****","fontSize":28,"baseline":"alphabetic"},"encoding":{"x":{"field":"grp","type":"nominal","bandPosition":1.13},"y":{"datum":1016,"type":"quantitative"}}}
   ]},
  {"resolve":{"scale":{"fill":"independent","stroke":"independent"}},"spacing":39,"hconcat":[
  {"resolve":{"scale":{"fill":"independent","stroke":"independent"}},"vconcat":[
   {"width":1,"height":22,"data":{"values":[{}]},"mark":{"type":"text","text":""},"encoding":{}},
   {"width":505,"height":525,
    "layer":[
     {"data":{"name":"l1"},"mark":{"type":"line","strokeWidth":2.2},"encoding":{
       "x":{"field":"x","type":"quantitative","scale":{"domain":[0,0.08]},"axis":{"values":[0,0.02,0.04,0.06,0.08],"format":".2f","title":"Synaptic area (µm2)","tickSize":20,"labelPadding":16,"titlePadding":80,"labelFlush":false}},
       "y":{"field":"y","type":"quantitative","scale":{"domain":[0,40]},"axis":{"values":[0,10,20,30,40],"title":"Nº of particles/Synapse","tickSize":18,"labelPadding":5,"titlePadding":20}},
       "stroke":{"field":"g","type":"nominal","sort":"descending","scale":{"range":["#1b2f3d","#f5a623"]},"legend":{"orient":"none","legendX":382,"legendY":-6,"title":null,"symbolType":"stroke","symbolSize":1936,"symbolStrokeWidth":2.5,"labelExpr":"''","clipHeight":38,"rowPadding":19,"zindex":1,"labelFontSize":20}}}},
     {"data":{"name":"c1"},"mark":{"type":"point","shape":"circle","filled":true,"stroke":"black","strokeWidth":2.5,"size":330,"opacity":1},"encoding":{
       "x":{"field":"x","type":"quantitative"},"y":{"field":"y","type":"quantitative"},
       "fill":{"field":"g","type":"nominal","scale":{"domain":["WT","APP/PS1"],"range":["#2e4a5e","#f6b333"]},"legend":{"orient":"none","legendX":395,"legendY":-6,"title":null,"symbolType":"circle","symbolSize":330,"symbolStrokeColor":"black","symbolStrokeWidth":2.5,"clipHeight":38,"rowPadding":19,"labelFontSize":20,"labelOffset":27,"zindex":2}}}},
     {"data":{"values":[{}]},"mark":{"type":"text","text":"St.\u00a0 radiatum","fontSize":29,"fontStyle":"italic","baseline":"middle"},"encoding":{"x":{"datum":0.0391,"type":"quantitative"},"y":{"datum":39.7,"type":"quantitative"}}},
     {"data":{"values":[{}]},"mark":{"type":"text","text":"WT","fontSize":25,"fontWeight":"bold","baseline":"middle"},"encoding":{"x":{"datum":0.0138,"type":"quantitative"},"y":{"datum":34.9,"type":"quantitative"}}},
     {"data":{"values":[{}]},"mark":{"type":"text","text":["R=0.53","P<0.0001","N=54"],"fontSize":25,"lineHeight":30.7,"baseline":"alphabetic"},"encoding":{"x":{"datum":0.0138,"type":"quantitative"},"y":{"datum":31.7,"type":"quantitative"}}},
     {"data":{"values":[{}]},"mark":{"type":"text","text":"APP/PS1","fontSize":25,"fontWeight":"bold","baseline":"middle"},"encoding":{"x":{"datum":0.0736,"type":"quantitative"},"y":{"datum":15.1,"type":"quantitative"}}},
     {"data":{"values":[{}]},"mark":{"type":"text","text":["R=0.54","P<0.0001","N=53"],"fontSize":25,"lineHeight":30.7,"baseline":"alphabetic"},"encoding":{"x":{"datum":0.0733,"type":"quantitative"},"y":{"datum":11.8,"type":"quantitative"}}},
     {"data":{"values":[{}]},"mark":{"type":"text","text":"C","fontSize":60,"baseline":"middle"},"encoding":{"x":{"datum":-0.0095,"type":"quantitative"},"y":{"datum":-13.7,"type":"quantitative"}}}
    ]}
  ],"spacing":0},
  {"resolve":{"scale":{"fill":"independent","stroke":"independent"}},"vconcat":[
   {"width":1,"height":30,"data":{"values":[{}]},"mark":{"type":"text","text":""},"encoding":{}},
   {"width":498,"height":523,
    "layer":[
     {"data":{"name":"l2"},"mark":{"type":"line","strokeWidth":2.2},"encoding":{
       "x":{"field":"x","type":"quantitative","scale":{"domain":[0,0.2]},"axis":{"values":[0,0.05,0.1,0.15,0.2],"format":".2f","title":"Synaptic area (µm2)","tickSize":20,"labelPadding":14,"titlePadding":72,"labelFlush":false}},
       "y":{"field":"y","type":"quantitative","scale":{"domain":[0,40]},"axis":{"values":[0,10,20,30,40],"title":null,"tickSize":18,"labelPadding":5}},
       "stroke":{"field":"g","type":"nominal","sort":"descending","scale":{"range":["#1b2f3d","#f5a623"]},"legend":{"orient":"none","legendX":438,"legendY":48,"title":null,"symbolType":"stroke","symbolSize":1936,"symbolStrokeWidth":2.5,"labelExpr":"''","clipHeight":38,"rowPadding":18,"zindex":1,"labelFontSize":20}}}},
     {"data":{"name":"c2"},"mark":{"type":"point","shape":"circle","filled":true,"stroke":"black","strokeWidth":2.5,"size":330,"opacity":1},"encoding":{
       "x":{"field":"x","type":"quantitative"},"y":{"field":"y","type":"quantitative"},
       "fill":{"field":"g","type":"nominal","scale":{"domain":["WT","APP/PS1"],"range":["#2e4a5e","#f6b333"]},"legend":{"orient":"none","legendX":451,"legendY":48,"title":null,"symbolType":"circle","symbolSize":330,"symbolStrokeColor":"black","symbolStrokeWidth":2.5,"clipHeight":38,"rowPadding":18,"labelFontSize":20,"labelOffset":21,"zindex":2}}}},
     {"data":{"values":[{}]},"mark":{"type":"text","text":"St. lacunosum moleculare","fontSize":29,"fontStyle":"italic","baseline":"middle"},"encoding":{"x":{"datum":0.1172,"type":"quantitative"},"y":{"datum":40.2,"type":"quantitative"}}},
     {"data":{"values":[{}]},"mark":{"type":"text","text":"WT","fontSize":25,"fontWeight":"bold","baseline":"middle"},"encoding":{"x":{"datum":0.1085,"type":"quantitative"},"y":{"datum":35.3,"type":"quantitative"}}},
     {"data":{"values":[{}]},"mark":{"type":"text","text":["R=0.56","P=0.0006","N=34"],"fontSize":25,"lineHeight":30.7,"baseline":"alphabetic"},"encoding":{"x":{"datum":0.1085,"type":"quantitative"},"y":{"datum":31.5,"type":"quantitative"}}},
     {"data":{"values":[{}]},"mark":{"type":"text","text":"APP/PS1","fontSize":25,"fontWeight":"bold","baseline":"middle"},"encoding":{"x":{"datum":0.1545,"type":"quantitative"},"y":{"datum":13.1,"type":"quantitative"}}},
     {"data":{"values":[{}]},"mark":{"type":"text","text":["R=0.70","P<0.0001","N=48"],"fontSize":25,"lineHeight":30.7,"baseline":"alphabetic"},"encoding":{"x":{"datum":0.1532,"type":"quantitative"},"y":{"datum":9.7,"type":"quantitative"}}}
    ]}
  ],"spacing":0}
  ]}
 ],"spacing":47},
 {"resolve":{"scale":{"fill":"independent","stroke":"independent"}},
  "hconcat":[
  {"width":402,"height":582,
   "title":{"text":"Interneurons","anchor":"start","frame":"group","fontSize":31,"fontWeight":"bold","dx":-212,"offset":15},
   "encoding":{"x":{"field":"grp","type":"nominal","scale":{"domain":["SR|WT","SR|APP","SLM|WT","SLM|APP"],"paddingInner":0.35,"paddingOuter":0.417,"align":0.48},
     "axis":{"title":"B","titleFontSize":60,"titleX":-148,"titleY":174,"titleAlign":"center","titleBaseline":"middle","titleAngle":0,"labelExpr":"split(datum.value,'|')[1] == 'WT' ? 'WT' : 'APP/PS1'","labelAngle":-45,"labelAlign":"right","labelBaseline":"middle","labelFontSize":30,"tickSize":15,"labelPadding":8}}},
   "layer":[
    {"data":{"name":"bB"},"mark":{"type":"bar","stroke":"black","strokeWidth":2.5,"width":58.3},
     "encoding":{"y":{"field":"mean","type":"quantitative","scale":{"domain":[0,800]},"axis":{"values":[0,200,400,600,800],"format":"d","title":"Density of gold particles","tickSize":15,"labelPadding":5,"titlePadding":36}},
      "fill":{"field":"g","type":"nominal","scale":{"domain":["WT","APP/PS1"],"range":["#2e4a5e","#f6b333"]},"legend":null}}},
    {"data":{"name":"dB"},"mark":{"type":"point","shape":"circle","filled":true,"fill":"white","stroke":"black","strokeWidth":3,"size":170,"opacity":1},
     "encoding":{"y":{"field":"v","type":"quantitative"},"xOffset":{"field":"j","type":"quantitative","scale":{"domain":[-0.5,0.5]}}}},
    {"data":{"name":"bB"},"mark":{"type":"rule","color":"black","strokeWidth":2.5,"opacity":1},"encoding":{"y":{"field":"lo","type":"quantitative"},"y2":{"field":"hi"}}},
    {"data":{"name":"bB"},"mark":{"type":"tick","color":"black","thickness":2.5,"size":26,"orient":"horizontal","opacity":1},"encoding":{"y":{"field":"lo","type":"quantitative"}}},
    {"data":{"name":"bB"},"mark":{"type":"tick","color":"black","thickness":2.5,"size":26,"orient":"horizontal","opacity":1},"encoding":{"y":{"field":"hi","type":"quantitative"}}},
    {"data":{"values":[{"grp":"SR|WT"}]},"mark":{"type":"tick","orient":"horizontal","color":"black","thickness":2.5,"size":140,"opacity":1},"encoding":{"xOffset":{"datum":0.48,"type":"quantitative"},"y":{"datum":-197,"type":"quantitative"}}},
    {"data":{"values":[{"grp":"SLM|WT"}]},"mark":{"type":"tick","orient":"horizontal","color":"black","thickness":2.5,"size":169,"opacity":1},"encoding":{"xOffset":{"datum":0.56,"type":"quantitative"},"y":{"datum":-197,"type":"quantitative"}}},
    {"data":{"values":[{"grp":"SR|WT","lab":"SR"}]},"mark":{"type":"text","fontSize":32,"baseline":"middle"},"encoding":{"x":{"field":"grp","type":"nominal","bandPosition":0.95},"y":{"datum":-239,"type":"quantitative"},"text":{"field":"lab"}}},
    {"data":{"values":[{"grp":"SLM|WT","lab":"SLM"}]},"mark":{"type":"text","fontSize":32,"baseline":"middle"},"encoding":{"x":{"field":"grp","type":"nominal","bandPosition":0.99},"y":{"datum":-239,"type":"quantitative"},"text":{"field":"lab"}}},
    {"data":{"values":[{"grp":"SLM|WT"}]},"mark":{"type":"tick","orient":"horizontal","color":"black","thickness":6,"size":106,"opacity":1},"encoding":{"xOffset":{"datum":0.73,"type":"quantitative"},"y":{"datum":805,"type":"quantitative"}}},
    {"data":{"values":[{"grp":"SLM|WT"}]},"mark":{"type":"text","text":"****","fontSize":28,"baseline":"alphabetic"},"encoding":{"x":{"field":"grp","type":"nominal","bandPosition":1.29},"y":{"datum":808,"type":"quantitative"}}}
   ]},
  {"resolve":{"scale":{"fill":"independent","stroke":"independent"}},"spacing":55,"hconcat":[
  {"resolve":{"scale":{"fill":"independent","stroke":"independent"}},"vconcat":[
   {"width":1,"height":1,"data":{"values":[{}]},"mark":{"type":"text","text":""},"encoding":{}},
   {"width":502,"height":557,
    "layer":[
     {"data":{"name":"l3"},"mark":{"type":"line","strokeWidth":2.2},"encoding":{
       "x":{"field":"x","type":"quantitative","scale":{"domain":[0,0.2]},"axis":{"values":[0,0.05,0.1,0.15,0.2],"format":".2f","title":"Synaptic area (µm2)","tickSize":20,"labelPadding":16,"titlePadding":40,"labelFlush":false}},
       "y":{"field":"y","type":"quantitative","scale":{"domain":[0,80]},"axis":{"values":[0,20,40,60,80],"title":"Nº of particles/Synapse","tickSize":18,"labelPadding":5,"titlePadding":12}},
       "stroke":{"field":"g","type":"nominal","sort":"descending","scale":{"range":["#1b2f3d","#f5a623"]},"legend":{"orient":"none","legendX":397,"legendY":62,"title":null,"symbolType":"stroke","symbolSize":1936,"symbolStrokeWidth":2.5,"labelExpr":"''","clipHeight":38,"rowPadding":18,"zindex":1,"labelFontSize":20}}}},
     {"data":{"name":"d1"},"mark":{"type":"point","shape":"circle","filled":true,"stroke":"black","strokeWidth":2.5,"size":330,"opacity":1},"encoding":{
       "x":{"field":"x","type":"quantitative"},"y":{"field":"y","type":"quantitative"},
       "fill":{"field":"g","type":"nominal","scale":{"domain":["WT","APP/PS1"],"range":["#2e4a5e","#f6b333"]},"legend":{"orient":"none","legendX":410,"legendY":62,"title":null,"symbolType":"circle","symbolSize":330,"symbolStrokeColor":"black","symbolStrokeWidth":2.5,"clipHeight":38,"rowPadding":18,"labelFontSize":20,"labelOffset":19,"zindex":2}}}},
     {"data":{"values":[{}]},"mark":{"type":"text","text":"St.\u00a0 radiatum","fontSize":29,"fontStyle":"italic","baseline":"middle"},"encoding":{"x":{"datum":0.0969,"type":"quantitative"},"y":{"datum":76.9,"type":"quantitative"}}},
     {"data":{"values":[{}]},"mark":{"type":"text","text":"WT","fontSize":25,"fontWeight":"bold","baseline":"middle"},"encoding":{"x":{"datum":0.037,"type":"quantitative"},"y":{"datum":64.7,"type":"quantitative"}}},
     {"data":{"values":[{}]},"mark":{"type":"text","text":["R=0.60","P<0.0001","N=45"],"fontSize":25,"lineHeight":30.7,"baseline":"alphabetic"},"encoding":{"x":{"datum":0.037,"type":"quantitative"},"y":{"datum":58.7,"type":"quantitative"}}},
     {"data":{"values":[{}]},"mark":{"type":"text","text":"APP/PS1","fontSize":25,"fontWeight":"bold","baseline":"middle"},"encoding":{"x":{"datum":0.1868,"type":"quantitative"},"y":{"datum":28.7,"type":"quantitative"}}},
     {"data":{"values":[{}]},"mark":{"type":"text","text":["R=0.50","P<0.0001","N=44"],"fontSize":25,"lineHeight":30.7,"baseline":"alphabetic"},"encoding":{"x":{"datum":0.1862,"type":"quantitative"},"y":{"datum":22.6,"type":"quantitative"}}},
     {"data":{"values":[{}]},"mark":{"type":"text","text":"D","fontSize":60,"baseline":"middle"},"encoding":{"x":{"datum":-0.0235,"type":"quantitative"},"y":{"datum":-26.1,"type":"quantitative"}}}
    ]}
  ],"spacing":0},
  {"resolve":{"scale":{"fill":"independent","stroke":"independent"}},"vconcat":[
   {"width":1,"height":12,"data":{"values":[{}]},"mark":{"type":"text","text":""},"encoding":{}},
   {"width":512,"height":526,
    "layer":[
     {"data":{"name":"l4"},"mark":{"type":"line","strokeWidth":2.2},"encoding":{
       "x":{"field":"x","type":"quantitative","scale":{"domain":[0,0.4]},"axis":{"values":[0,0.1,0.2,0.3,0.4],"format":".1f","title":"Synaptic area (µm2)","tickSize":20,"labelPadding":14,"titlePadding":28,"labelFlush":false}},
       "y":{"field":"y","type":"quantitative","scale":{"domain":[0,80]},"axis":{"values":[0,20,40,60,80],"title":null,"tickSize":18,"labelPadding":5}},
       "stroke":{"field":"g","type":"nominal","sort":"descending","scale":{"range":["#1b2f3d","#f5a623"]},"legend":{"orient":"none","legendX":402,"legendY":17,"title":null,"symbolType":"stroke","symbolSize":1936,"symbolStrokeWidth":2.5,"labelExpr":"''","clipHeight":38,"rowPadding":20,"zindex":1,"labelFontSize":20}}}},
     {"data":{"name":"d2"},"mark":{"type":"point","shape":"circle","filled":true,"stroke":"black","strokeWidth":2.5,"size":330,"opacity":1},"encoding":{
       "x":{"field":"x","type":"quantitative"},"y":{"field":"y","type":"quantitative"},
       "fill":{"field":"g","type":"nominal","scale":{"domain":["WT","APP/PS1"],"range":["#2e4a5e","#f6b333"]},"legend":{"orient":"none","legendX":415,"legendY":17,"title":null,"symbolType":"circle","symbolSize":330,"symbolStrokeColor":"black","symbolStrokeWidth":2.5,"clipHeight":38,"rowPadding":20,"labelFontSize":20,"labelOffset":28,"zindex":2}}}},
     {"data":{"values":[{}]},"mark":{"type":"text","text":"St. lacunosum moleculare","fontSize":29,"fontStyle":"italic","baseline":"middle"},"encoding":{"x":{"datum":0.238,"type":"quantitative"},"y":{"datum":82.9,"type":"quantitative"}}},
     {"data":{"values":[{}]},"mark":{"type":"text","text":"WT","fontSize":25,"fontWeight":"bold","baseline":"middle"},"encoding":{"x":{"datum":0.208,"type":"quantitative"},"y":{"datum":61.9,"type":"quantitative"}}},
     {"data":{"values":[{}]},"mark":{"type":"text","text":["R=0.44","P=0.015","N=49"],"fontSize":25,"lineHeight":30.7,"baseline":"alphabetic"},"encoding":{"x":{"datum":0.207,"type":"quantitative"},"y":{"datum":55.0,"type":"quantitative"}}},
     {"data":{"values":[{}]},"mark":{"type":"text","text":"APP/PS1","fontSize":25,"fontWeight":"bold","baseline":"middle"},"encoding":{"x":{"datum":0.297,"type":"quantitative"},"y":{"datum":25.7,"type":"quantitative"}}},
     {"data":{"values":[{}]},"mark":{"type":"text","text":["R=0.40","P=0.013","N=37"],"fontSize":25,"lineHeight":30.7,"baseline":"alphabetic"},"encoding":{"x":{"datum":0.295,"type":"quantitative"},"y":{"datum":19.6,"type":"quantitative"}}}
    ]}
  ],"spacing":0}
  ]}
 ],"spacing":39}
],
"spacing":24
}
